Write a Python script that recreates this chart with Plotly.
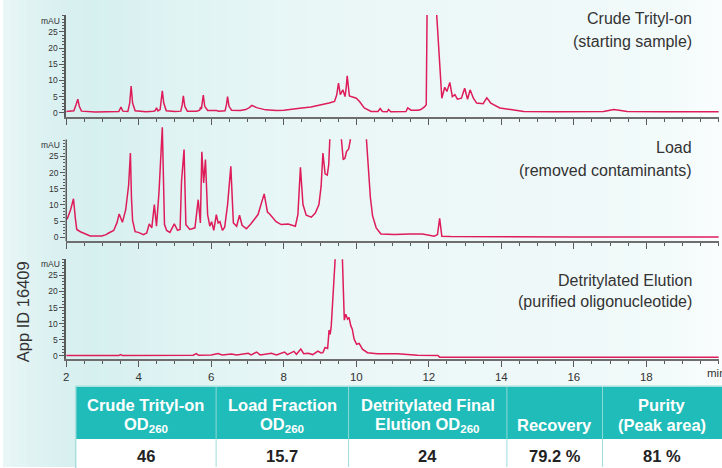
import plotly.graph_objects as go

W, H = 722, 468

# ---------------- data ----------------
# (time in min, absorbance in mAU)
crude_trace = [
    (2.00, 0.4), (2.15, 0.4), (2.21, 0.6), (2.27, 2.5), (2.32, 4.2), (2.36, 2.0), (2.42, 0.5),
    (2.80, 0.2), (3.20, 0.2), (3.45, 0.4), (3.51, 1.8), (3.56, 0.5), (3.70, 0.4), (3.75, 3.0),
    (3.79, 8.3), (3.83, 3.0), (3.90, 0.6), (4.20, 0.3), (4.40, 0.5), (4.45, 0.6), (4.49, 1.5),
    (4.53, 0.6), (4.59, 1.0), (4.62, 4.0), (4.65, 6.8), (4.69, 3.0), (4.76, 0.6), (5.00, 0.4),
    (5.16, 0.5), (5.20, 2.5), (5.23, 5.2), (5.27, 2.0), (5.34, 0.5), (5.60, 0.5), (5.68, 0.8),
    (5.70, 1.5), (5.73, 1.2), (5.75, 3.0), (5.78, 5.5), (5.82, 2.0), (5.90, 0.7), (6.15, 0.7),
    (6.20, 0.5), (6.38, 0.6), (6.42, 2.5), (6.45, 5.0), (6.49, 2.0), (6.56, 0.8), (6.80, 0.7),
    (6.95, 1.0), (7.05, 1.6), (7.12, 2.3), (7.25, 1.6), (7.50, 0.9), (7.80, 0.7), (8.00, 0.8),
    (8.20, 1.0), (8.50, 1.5), (8.75, 1.8), (8.95, 2.2), (9.10, 2.6), (9.25, 3.0), (9.40, 3.5),
    (9.46, 5.5), (9.51, 9.2), (9.56, 5.6), (9.63, 7.1), (9.69, 5.0), (9.72, 7.5), (9.75, 11.4),
    (9.81, 5.2), (9.90, 4.9), (10.00, 4.5), (10.09, 3.5), (10.22, 1.5), (10.41, 0.4), (10.60, 0.4),
    (10.66, 1.3), (10.72, 0.4), (10.85, 0.3), (10.89, 1.0), (10.95, 0.3), (11.30, 0.3), (11.37, 0.4),
    (11.42, 1.5), (11.51, 0.8), (11.70, 0.8), (11.78, 1.0), (11.88, 1.8), (11.93, 2.5), (11.96, 40.0),
    (11.98, 150.0), (12.10, 150.0), (12.22, 30.0), (12.36, 4.5), (12.44, 7.9), (12.50, 6.6),
    (12.58, 9.4), (12.65, 5.0), (12.72, 5.6), (12.79, 4.2), (12.90, 4.5), (12.99, 7.6), (13.07, 4.2),
    (13.14, 7.1), (13.23, 4.5), (13.32, 3.0), (13.50, 2.8), (13.60, 4.6), (13.71, 3.0), (13.80, 2.5),
    (13.96, 1.5), (14.26, 1.0), (14.62, 0.4), (15.50, 0.3), (16.50, 0.3), (16.82, 0.4), (17.00, 0.8),
    (17.10, 1.0), (17.25, 0.8), (17.47, 0.4), (18.50, 0.3), (20.00, 0.3),
]

# None marks where the trace leaves the drawn window (clipped tops)
load_trace = [
    (2.00, 5.5), (2.03, 5.7), (2.12, 8.5), (2.20, 11.9), (2.25, 6.0), (2.29, 2.4), (2.39, 1.7),
    (2.50, 1.2), (2.66, 0.4), (2.98, 0.4), (3.10, 0.8), (3.17, 1.3), (3.31, 2.1), (3.40, 4.5),
    (3.46, 7.2), (3.55, 4.6), (3.64, 8.5), (3.72, 16.0), (3.77, 26.0), (3.80, 12.0), (3.83, 5.2),
    (3.90, 1.7), (3.99, 1.5), (4.13, 0.8), (4.22, 1.3), (4.29, 4.1), (4.36, 2.9), (4.43, 10.1),
    (4.49, 3.4), (4.56, 14.2), (4.65, 34.0), (4.71, 3.9), (4.77, 2.1), (4.86, 1.5), (4.98, 4.1),
    (5.07, 2.1), (5.14, 2.4), (5.18, 17.3), (5.25, 27.1), (5.30, 3.9), (5.41, 2.4), (5.55, 2.9),
    (5.64, 11.6), (5.70, 4.4), (5.74, 26.4), (5.79, 16.8), (5.84, 24.0), (5.90, 7.0), (5.96, 3.4),
    (6.01, 4.8), (6.07, 2.1), (6.14, 7.0), (6.19, 4.4), (6.24, 4.8), (6.31, 2.1), (6.37, 3.1),
    (6.45, 10.0), (6.54, 21.9), (6.61, 4.4), (6.70, 3.4), (6.78, 6.8), (6.85, 3.7), (6.97, 2.6),
    (7.09, 4.1), (7.29, 7.0), (7.46, 13.4), (7.55, 7.8), (7.61, 7.2), (7.71, 5.7), (7.79, 4.8),
    (7.93, 3.9), (8.12, 4.1), (8.32, 3.4), (8.39, 7.0), (8.46, 21.6), (8.53, 10.1), (8.62, 6.8),
    (8.76, 6.2), (8.87, 7.5), (8.97, 10.1), (9.03, 15.7), (9.08, 26.0), (9.14, 19.6), (9.20, 19.2),
    (9.24, 22.4), (9.27, 30.3), (9.43, None), (9.59, 30.3), (9.64, 24.0), (9.69, 24.5),
    (9.73, 26.5), (9.79, 27.3), (9.84, 30.3), (10.05, None), (10.28, 30.3), (10.33, 22.4),
    (10.39, 12.2), (10.45, 6.6), (10.55, 2.9), (10.68, 1.0), (11.05, 0.8), (11.49, 1.0),
    (11.83, 1.0), (12.15, 0.3), (12.24, 0.8), (12.30, 5.8), (12.36, 0.3), (12.60, 0.2),
    (14.00, 0.1), (16.00, 0.1), (18.00, 0.1), (20.00, 0.1),
]

elution_trace = [
    (2.00, 0.1), (2.50, 0.0), (3.00, 0.1), (3.45, 0.1), (3.50, 0.4), (3.55, 0.1), (4.00, 0.1),
    (4.50, 0.1), (5.00, 0.2), (5.50, 0.2), (5.59, 0.7), (5.65, 0.2), (6.00, 0.3), (6.19, 0.7),
    (6.30, 0.3), (6.56, 0.6), (6.70, 0.3), (7.02, 0.8), (7.10, 0.3), (7.25, 1.2), (7.35, 0.3),
    (7.66, 0.8), (7.80, 0.3), (8.02, 1.2), (8.10, 0.4), (8.28, 1.4), (8.35, 0.5), (8.47, 2.1),
    (8.55, 0.7), (8.67, 0.8), (8.80, 0.4), (8.94, 1.5), (9.03, 0.9), (9.08, 1.0), (9.14, 2.6),
    (9.21, 2.3), (9.25, 8.0), (9.28, 6.7), (9.31, 9.3), (9.36, 19.6), (9.42, 30.5), (9.48, 120.0),
    (9.55, 120.0), (9.615, 31.0), (9.67, 11.1), (9.71, 12.9), (9.76, 11.4), (9.80, 11.9),
    (9.85, 9.3), (9.89, 8.3), (9.94, 5.2), (10.01, 3.6), (10.08, 3.9), (10.17, 2.1), (10.31, 1.0),
    (10.58, 0.7), (11.14, 0.7), (11.69, 0.2), (12.25, 0.1), (12.30, -0.4), (14.00, -0.4),
    (16.00, -0.4), (18.00, -0.4), (20.00, -0.4),
]

panel_titles = [
    ("Crude Trityl-on", "(starting sample)"),
    ("Load", "(removed contaminants)"),
    ("Detritylated Elution", "(purified oligonucleotide)"),
]

x_tick_values = [2, 4, 6, 8, 10, 12, 14, 16, 18, 20]
x_tick_labels = ["2", "4", "6", "8", "10", "12", "14", "16", "18", ""]
y_tick_values = [0, 5, 10, 15, 20, 25]
y_unit = "mAU"
x_unit = "min"
side_label = "App ID 16409"

table_head_line1 = ["Crude Trityl-on", "Load Fraction", "Detritylated Final", "", "Purity"]
table_head_line2 = ["OD<sub>260</sub>", "OD<sub>260</sub>", "Elution OD<sub>260</sub>", "Recovery", "(Peak area)"]
table_values = ["46", "15.7", "24", "79.2 %", "81 %"]

# ---------------- layout helpers ----------------
def fx(px):
    return px / W

def fy(py):
    return 1 - py / H

LINE_COLOR = "#de1c5a"
AXIS_COLOR = "#5a5a5a"
TEXT_COLOR = "#333333"
NARROW = "Liberation Sans Narrow, Arial Narrow, sans-serif"
SANS = "Liberation Sans, Arial, Helvetica, sans-serif"

panels = [
    dict(trace=crude_trace, yr=(-1.23, 30.25), bottom=117.0, ppu=3.24, ty=(18.5, 42.0), line=True),
    dict(trace=load_trace, yr=(-1.23, 34.6), bottom=241.7, ppu=3.24, ty=(147.5, 170.5), line=False),
    dict(trace=elution_trace, yr=(-1.10, 30.0), bottom=360.2, ppu=3.23, ty=(281.0, 302.5), line=True),
]

x_dom = [fx(63.5), fx(718.8)]

fig = go.Figure()
shapes = []
annotations = []

# background gradient strips
stops = [(0, (233, 246, 246)), (40, (221, 241, 241)), (90, (214, 239, 239)), (170, (223, 243, 243)),
         (320, (234, 247, 247)), (520, (238, 248, 248)), (660, (242, 250, 250)), (722, (250, 253, 253))]

def grad(px):
    for (a, ca), (b, cb) in zip(stops[:-1], stops[1:]):
        if a <= px <= b:
            t = (px - a) / (b - a)
            return "rgb(%d,%d,%d)" % tuple(round(ca[i] + (cb[i] - ca[i]) * t) for i in range(3))
    return "rgb(250,253,253)"

step = 8
for x0 in range(0, W, step):
    shapes.append(dict(type="rect", xref="paper", yref="paper", x0=fx(x0), x1=fx(x0 + step + 0.5),
                       y0=0, y1=1, fillcolor=grad(x0 + step / 2), line=dict(width=0), layer="below"))

minor_x = [2 + 0.5 * k for k in range(37)]
minor_y = list(range(0, 31))

for i, p in enumerate(panels, start=1):
    sfx = "" if i == 1 else str(i)
    lo, hi = p["yr"]
    top_px = p["bottom"] - (hi - lo) * p["ppu"]
    fig.add_trace(go.Scatter(
        x=[t for t, v in p["trace"]], y=[v for t, v in p["trace"]],
        mode="lines", line=dict(color=LINE_COLOR, width=1.5), connectgaps=False,
        xaxis="x" + sfx, yaxis="y" + sfx, showlegend=False, hoverinfo="skip"))
    fig.layout["xaxis" + sfx] = dict(
        domain=x_dom, range=[2, 20], anchor="y" + sfx, showgrid=False, zeroline=False,
        showline=True, linecolor="#6e6e6e", linewidth=2,
        tickmode="array", tickvals=x_tick_values, ticktext=x_tick_labels,
        ticks="outside", ticklen=6, tickwidth=1, tickcolor=AXIS_COLOR,
        minor=dict(tickvals=minor_x, ticks="outside", ticklen=3, tickwidth=1, tickcolor=AXIS_COLOR),
        showticklabels=(i == 3), tickfont=dict(family=SANS, size=11.5, color=TEXT_COLOR))
    fig.layout["yaxis" + sfx] = dict(
        domain=[fy(p["bottom"]), fy(top_px)], range=[lo, hi], anchor="x" + sfx,
        showgrid=False, zeroline=False, showline=p["line"], linecolor=AXIS_COLOR, linewidth=1.5,
        tickmode="array", tickvals=y_tick_values, ticks="outside", ticklen=5, tickwidth=1,
        tickcolor=AXIS_COLOR,
        minor=dict(tickvals=minor_y, ticks="outside", ticklen=2.5, tickwidth=1, tickcolor=AXIS_COLOR),
        tickfont=dict(family=SANS, size=8.5, color=TEXT_COLOR))
    if not p["line"]:
        shapes.append(dict(type="line", xref="x" + sfx + " domain", yref="y" + sfx,
                           x0=0, x1=0, y0=lo, y1=30.2, line=dict(color=AXIS_COLOR, width=1.5)))
    annotations.append(dict(text=y_unit, xref="paper", yref="y" + sfx, x=fx(59.5), y=28.4,
                            xanchor="right", yanchor="middle", showarrow=False,
                            font=dict(family=SANS, size=8.5, color=TEXT_COLOR)))
    for line_text, ypx in zip(panel_titles[i - 1], p["ty"]):
        annotations.append(dict(text=line_text, xref="paper", yref="paper", x=fx(694), y=fy(ypx),
                                xanchor="right", yanchor="middle", showarrow=False,
                                font=dict(family=NARROW, size=16, color=TEXT_COLOR)))

annotations.append(dict(text=x_unit, xref="paper", yref="paper", x=fx(705), y=fy(374),
                        xanchor="left", yanchor="middle", showarrow=False,
                        font=dict(family=SANS, size=11.5, color=TEXT_COLOR)))

annotations.append(dict(text=side_label, xref="paper", yref="paper", x=fx(20), y=fy(312),
                        xanchor="center", yanchor="middle", textangle=-90, showarrow=False,
                        font=dict(family=NARROW, size=16.5, color=TEXT_COLOR)))

# ---------------- table ----------------
col_edges = [73, 214, 347, 506, 602, 722]
head_top, head_bot, body_bot = 387, 440, 468
shapes.append(dict(type="rect", xref="paper", yref="paper", x0=fx(col_edges[0]), x1=fx(col_edges[-1]),
                   y0=fy(head_bot), y1=fy(head_top), fillcolor="#1fbcb9", line=dict(width=0)))
shapes.append(dict(type="rect", xref="paper", yref="paper", x0=fx(col_edges[0]), x1=fx(col_edges[-1]),
                   y0=fy(body_bot), y1=fy(head_bot), fillcolor="#ffffff", line=dict(width=0)))
for e in col_edges[1:-1]:
    shapes.append(dict(type="line", xref="paper", yref="paper", x0=fx(e), x1=fx(e),
                       y0=fy(head_bot), y1=fy(head_top), line=dict(color="#8fd8d5", width=1)))
    shapes.append(dict(type="line", xref="paper", yref="paper", x0=fx(e), x1=fx(e),
                       y0=fy(body_bot), y1=fy(head_bot), line=dict(color="#9edcda", width=1)))
shapes.append(dict(type="rect", xref="paper", yref="paper", x0=fx(col_edges[0]), x1=fx(col_edges[-1] + 2),
                   y0=fy(body_bot + 2), y1=fy(head_top), fillcolor="rgba(0,0,0,0)",
                   line=dict(color="#a8e0de", width=1.5)))

for k in range(len(table_values)):
    cx = fx((col_edges[k] + col_edges[k + 1]) / 2)
    if table_head_line1[k]:
        annotations.append(dict(text="<b>%s</b>" % table_head_line1[k], xref="paper", yref="paper",
                                x=cx, y=fy(405.5), xanchor="center", yanchor="middle", showarrow=False,
                                font=dict(family=SANS, size=16.5, color="#ffffff")))
    annotations.append(dict(text="<b>%s</b>" % table_head_line2[k], xref="paper", yref="paper",
                            x=cx, y=fy(425.5), xanchor="center", yanchor="middle", showarrow=False,
                            font=dict(family=SANS, size=16.5, color="#ffffff")))
    annotations.append(dict(text="<b>%s</b>" % table_values[k], xref="paper", yref="paper",
                            x=cx, y=fy(457), xanchor="center", yanchor="middle", showarrow=False,
                            font=dict(family=SANS, size=16.5, color="#222222")))

fig.update_layout(
    width=W, height=H, margin=dict(l=0, r=0, t=0, b=0),
    paper_bgcolor="#ffffff", plot_bgcolor="rgba(0,0,0,0)",
    shapes=shapes, annotations=annotations, showlegend=False,
)

fig.write_html("out.html", config={"displayModeBar": False},
               post_script="document.body.style.margin='0px';document.body.style.overflow='hidden';")
